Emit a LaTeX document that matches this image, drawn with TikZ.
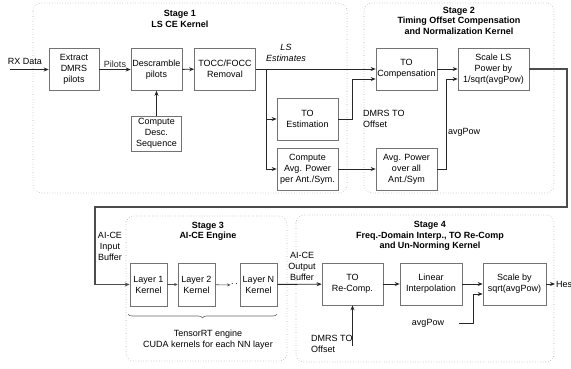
\documentclass[tikz,border=0pt]{standalone}
\usepackage{fontspec}
\setmainfont{Liberation Sans}
\usepackage{tikz}
\usetikzlibrary{arrows.meta,decorations.pathreplacing}

\begin{document}
\begin{tikzpicture}[x=1pt, y=-1pt,
    font=\fontsize{9}{11}\selectfont,
    blk/.style={draw=black!55, line width=0.6pt, fill=white, align=center, inner sep=1pt, minimum height=42},
    stagebox/.style={draw=black!30, dotted, line width=0.6pt, rounded corners=8pt},
    title/.style={align=center, font=\fontsize{9}{10.5}\selectfont\bfseries},
    lbl/.style={align=center, inner sep=1pt},
    arr/.style={-{Stealth[length=5pt, width=4pt]}, line width=0.9pt, black!85},
    fb/.style={-{Stealth[length=5pt, width=4pt]}, line width=1.2pt, black!70}]
            \useasboundingbox (0, 0) rectangle (571, 368);
            % stage frames
            \draw [stagebox] (33, 3) rectangle (347, 193);
            \draw [stagebox] (364, 3) rectangle (554, 193);
            \draw [stagebox] (126, 216) rectangle (287, 361);
            \draw [stagebox] (296, 215) rectangle (554, 362);
            \node (t1) at (180, 19) [title] {Stage 1\\LS CE Kernel};
            \node (t2) at (459, 20.5) [title] {Stage 2\\Timing Offset Compensation\\and Normalization Kernel};
            \node (t3) at (208, 231.5) [title] {Stage 3\\AI-CE Engine};
            \node (t4) at (430, 236) [title] {Stage 4\\Freq.-Domain Interp., TO Re-Comp\\and Un-Norming Kernel};
            % stage 1
            \node (extract) at (74, 69.5) [blk, minimum width=50] {Extract\\DMRS\\pilots};
            \node (descr) at (156.5, 69.5) [blk, minimum width=51] {Descramble\\pilots};
            \node (tocc) at (225, 69) [blk, minimum width=61] {TOCC/FOCC\\Removal};
            \node (compdesc) at (156.5, 133.5) [blk, minimum width=50, minimum height=35] {Compute\\Desc.\\Sequence};
            \node (toest) at (307.5, 119) [blk, minimum width=61] {TO\\Estimation};
            \node (compavg) at (307.5, 169) [blk, minimum width=61] {Compute\\Avg. Power\\per Ant./Sym.};
            % stage 2
            \node (tocomp) at (406.5, 69) [blk, minimum width=61] {TO\\Compensation};
            \node (scalels) at (493.5, 69) [blk, minimum width=71] {Scale LS\\Power by\\1/sqrt(avgPow)};
            \node (avgall) at (406.5, 169) [blk, minimum width=61] {Avg. Power\\over all\\Ant./Sym};
            % stage 3
            \node (layer1) at (148.5, 284.5) [blk, minimum width=37, minimum height=43] {Layer 1\\Kernel};
            \node (layer2) at (196.5, 284.5) [blk, minimum width=37, minimum height=43] {Layer 2\\Kernel};
            \node (layerN) at (258.5, 284.5) [blk, minimum width=37, minimum height=43] {Layer N\\Kernel};
            \node (dots) at (234.5, 285) [lbl, inner sep=0pt] {\textperiodcentered\,\textperiodcentered};
            % stage 4
            \node (torecomp) at (352.5, 284) [blk, minimum width=61] {TO\\Re-Comp.};
            \node (linint) at (431, 284) [blk, minimum width=62] {Linear\\Interpolation};
            \node (scalesq) at (514.5, 284) [blk, minimum width=63] {Scale by\\sqrt(avgPow)};
            % labels
            \node (rx) at (25, 61) [lbl] {RX Data};
            \node (ls) at (286, 53) [lbl, font=\fontsize{9}{11}\selectfont\itshape] {LS\\Estimates};
            \node (dmrs1) at (362, 118.5) [lbl, anchor=west, align=left] {DMRS TO\\Offset};
            \node (avgpow1) at (447, 132) [lbl, anchor=west] {avgPow};
            \node (inbuf) at (110, 246) [lbl] {AI-CE\\Input\\Buffer};
            \node (outbuf) at (302, 266) [lbl] {AI-CE\\Output\\Buffer};
            \node (avgpow2) at (428, 323) [lbl] {avgPow};
            \node (dmrs2) at (310, 343.5) [lbl, anchor=west, align=left] {DMRS TO\\Offset};
            \node (hest) at (555, 284) [lbl, anchor=west] {Hest};
            \node (trt) at (208, 339.5) [lbl] {TensorRT engine\\CUDA kernels for each NN layer};
            % junctions
            \coordinate (rxin) at (10, 69.5);
            \coordinate (br) at (266, 69);
            \coordinate (j1) at (352, 79);
            \coordinate (j2) at (446, 79);
            \coordinate (fb1) at (567, 207);
            \coordinate (fb2) at (95, 207);
            \coordinate (j3) at (473, 294);
            \coordinate (d2) at (352.5, 346);
            % connectors
            \draw [arr] (rxin) -- (extract);
            \draw [arr] (extract) -- node [lbl, above] {Pilots} (descr);
            \draw [arr] (descr) -- (tocc);
            \draw [arr] (compdesc) -- (descr);
            \draw [arr] (tocc) -- (tocomp);
            \draw [arr] (br) |- (toest);
            \draw [arr] (br) |- (compavg);
            \draw [arr] (toest) -| (j1) -- (tocomp.west |- j1);
            \draw [arr] (compavg) -- (avgall);
            \draw [arr] (avgall) -| (j2) -- (scalels.west |- j2);
            \draw [arr] (tocomp) -- (scalels);
            \draw [fb] (scalels.east) -| (fb1) -- (fb2) |- (layer1);
            \draw [-{Stealth[length=3.5pt, width=3pt]}, line width=0.6pt, black!70] (layer1) -- (layer2);
            \draw [-{Stealth[length=3.5pt, width=3pt]}, line width=0.6pt, black!70] (layer2) -- (dots);
            \draw [arr] (layerN) -- (torecomp);
            \draw [arr] (torecomp) -- (linint);
            \draw [arr] (linint) -- (scalesq);
            \draw [arr, shorten <=14pt] (avgpow2.east) -| (j3) -- (scalesq.west |- j3);
            \draw [arr] (d2) -- (torecomp);
            \draw [arr] (scalesq) -- (hest);
            \draw [decorate, decoration={brace, mirror, amplitude=4pt}, black!60, line width=0.6pt] (128, 314) -- (277, 314);
        \end{tikzpicture}
\end{document}
